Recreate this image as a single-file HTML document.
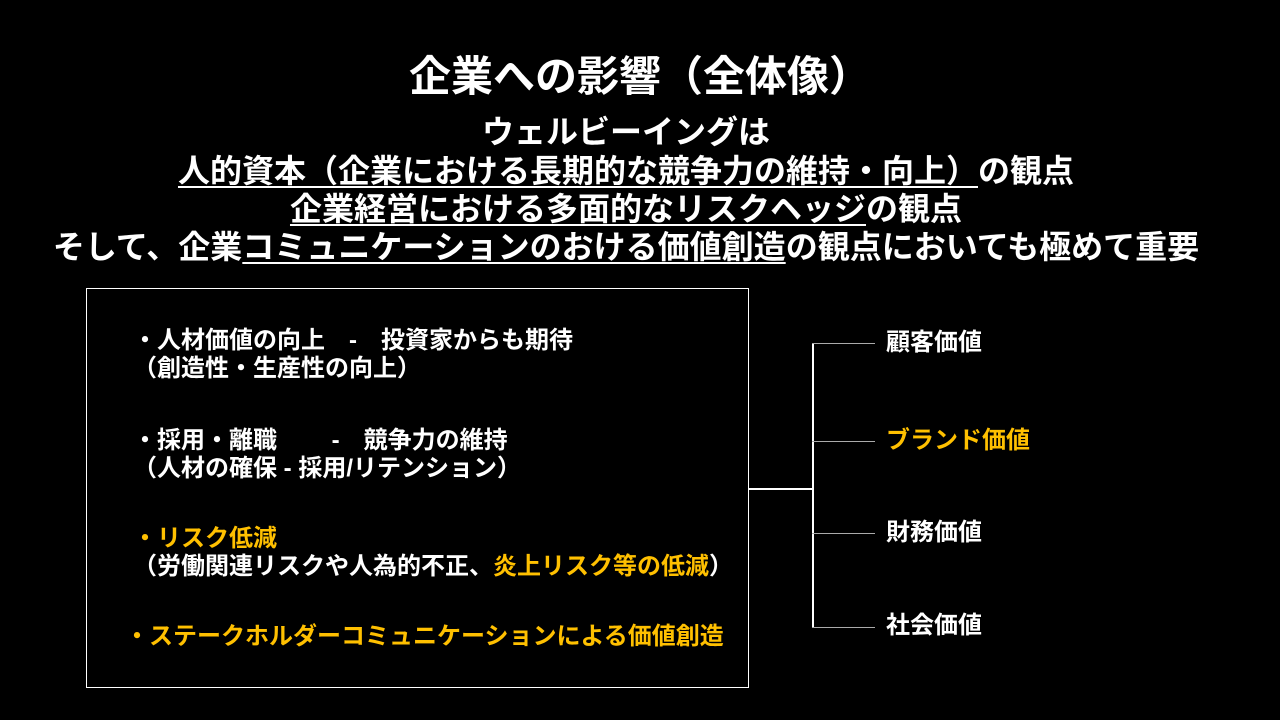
<!DOCTYPE html>
<html><head><meta charset="utf-8"><style>
body{margin:0;width:1280px;height:720px;background:#000;overflow:hidden;position:relative;font-family:"Liberation Sans","Noto Sans CJK JP",sans-serif;color:#fff;font-weight:bold}
.t{position:absolute;white-space:nowrap;line-height:1}
.c{left:0;width:1280px;text-align:center}
.s{left:-14px}
u{text-decoration:underline;text-decoration-thickness:2px;text-underline-offset:4px}
.y{color:#ffc000}
.b{font-size:24px}
.r{font-size:24px;left:886px}
.l{position:absolute;background:#fff}
</style></head><body>
<div class="t c" style="top:56px;font-size:42px">企業への影響（全体像）</div>
<div class="t c s" style="top:116px;font-size:32px">ウェルビーイングは</div>
<div class="t c s" style="top:155px;font-size:32px"><u>人的資本（企業における長期的な競争力の維持・向上）</u>の観点</div>
<div class="t c s" style="top:193px;font-size:32px"><u>企業経営における多面的なリスクヘッジ</u>の観点</div>
<div class="t c s" style="top:231px;font-size:32px">そして、企業<u>コミュニケーションのおける価値創造</u>の観点においても極めて重要</div>
<div style="position:absolute;left:86px;top:288px;width:661px;height:398px;border:1.5px solid #fff"></div>
<div class="t b" style="left:133px;top:329px">・人材価値の向上　-　投資家からも期待</div>
<div class="t b" style="left:133px;top:357px">（創造性・生産性の向上）</div>
<div class="t b" style="left:133px;top:429px">・採用・離職　　 -　競争力の維持</div>
<div class="t b" style="left:133px;top:457px">（人材の確保 - 採用/リテンション）</div>
<div class="t b y" style="left:133px;top:527px">・リスク低減</div>
<div class="t b" style="left:133px;top:555px">（労働関連リスクや人為的不正、<span class="y">炎上リスク等の低減</span>）</div>
<div class="t b y" style="left:125px;top:625px">・ステークホルダーコミュニケーションによる価値創造</div>
<div class="l" style="left:748px;top:488px;width:64px;height:1.5px"></div>
<div class="l" style="left:812px;top:343px;width:1.5px;height:285px"></div>
<div class="l" style="left:812px;top:343px;width:63px;height:1px;background:#aaa"></div>
<div class="l" style="left:812px;top:441px;width:63px;height:1px;background:#aaa"></div>
<div class="l" style="left:812px;top:533px;width:63px;height:1px;background:#aaa"></div>
<div class="l" style="left:812px;top:627px;width:63px;height:1px;background:#aaa"></div>
<div class="t r" style="top:331px">顧客価値</div>
<div class="t r y" style="top:429px">ブランド価値</div>
<div class="t r" style="top:521px">財務価値</div>
<div class="t r" style="top:614px">社会価値</div>
</body></html>
